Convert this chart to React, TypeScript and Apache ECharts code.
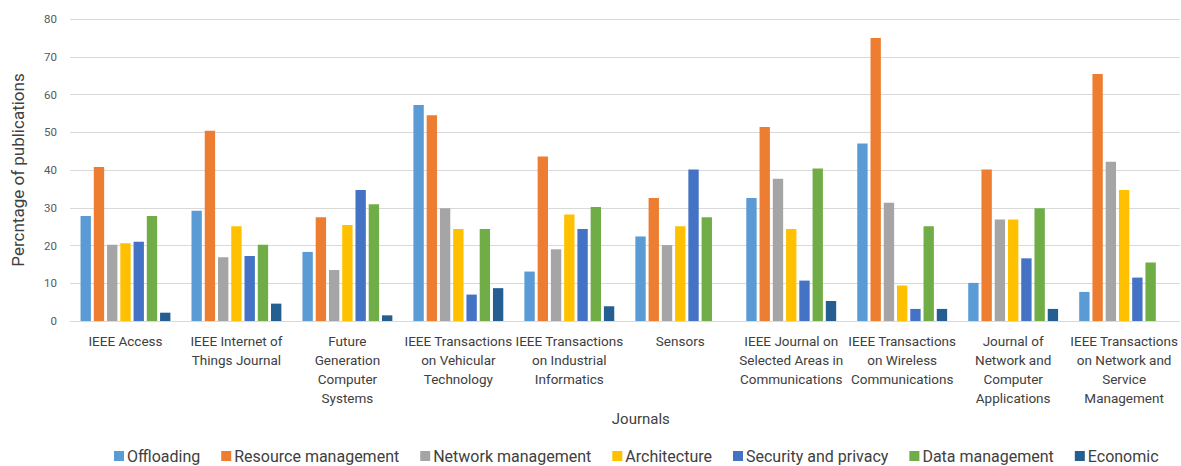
import React, { useEffect, useRef } from "react";
import * as echarts from "echarts";

const categories = [
  "IEEE Access",
  "IEEE Internet of Things Journal",
  "Future Generation Computer Systems",
  "IEEE Transactions on Vehicular Technology",
  "IEEE Transactions on Industrial Informatics",
  "Sensors",
  "IEEE Journal on Selected Areas in Communications",
  "IEEE Transactions on Wireless Communications",
  "Journal of Network and Computer Applications",
  "IEEE Transactions on Network and Service Management",
];

const categoryLabels = [
  "IEEE Access",
  "IEEE Internet of\nThings Journal",
  "Future\nGeneration\nComputer\nSystems",
  "IEEE Transactions\non Vehicular\nTechnology",
  "IEEE Transactions\non Industrial\nInformatics",
  "Sensors",
  "IEEE Journal on\nSelected Areas in\nCommunications",
  "IEEE Transactions\non Wireless\nCommunications",
  "Journal of\nNetwork and\nComputer\nApplications",
  "IEEE Transactions\non Network and\nService\nManagement",
];

const offloading = [27.8, 29.2, 18.3, 57.2, 13.1, 22.4, 32.6, 47.0, 10.1, 7.7];
const resourceManagement = [40.8, 50.4, 27.5, 54.5, 43.6, 32.6, 51.4, 75.0, 40.1, 65.4];
const networkManagement = [20.2, 16.9, 13.5, 29.9, 19.0, 20.1, 37.7, 31.3, 26.9, 42.2];
const architecture = [20.6, 25.1, 25.4, 24.4, 28.2, 25.1, 24.4, 9.4, 26.9, 34.7];
const securityPrivacy = [21.0, 17.2, 34.7, 7.0, 24.4, 40.1, 10.7, 3.2, 16.6, 11.5];
const dataManagement = [27.8, 20.2, 30.9, 24.4, 30.2, 27.5, 40.4, 25.1, 29.9, 15.5];
const economic = [2.2, 4.6, 1.5, 8.7, 3.9, 0, 5.3, 3.2, 3.2, 0];

const yTicks = [0, 10, 20, 30, 40, 50, 60, 70, 80];

const seriesNames = [
  "Offloading",
  "Resource management",
  "Network management",
  "Architecture",
  "Security and privacy",
  "Data management",
  "Economic",
];
const seriesData = [
  offloading,
  resourceManagement,
  networkManagement,
  architecture,
  securityPrivacy,
  dataManagement,
  economic,
];
const colors = ["#5B9BD5", "#ED7D31", "#A5A5A5", "#FFC000", "#4472C4", "#70AD47", "#255E91"];

export default function App() {
  const ref = useRef<HTMLDivElement>(null);
  useEffect(() => {
    if (!ref.current) return;
    const chart = echarts.init(ref.current, null, { renderer: "svg" });
    const font = "Roboto, 'Open Sans', sans-serif";
    chart.setOption({
      animation: false,
      color: colors,
      textStyle: { fontFamily: font },
      grid: { left: 70, right: 0, top: 19, bottom: 145, containLabel: false },
      legend: {
        left: 114,
        top: 448,
        padding: 0,
        itemWidth: 10,
        itemHeight: 10,
        itemGap: 21,
        icon: "rect",
        textStyle: { fontSize: 16, color: "#404040", fontFamily: font, padding: [0, 0, 0, -2] },
        data: seriesNames,
      },
      xAxis: {
        type: "category",
        data: categories,
        name: "Journals",
        nameLocation: "middle",
        nameGap: 87,
        nameTextStyle: { fontSize: 15, color: "#404040", fontFamily: font, padding: [0, 0, 0, 32] },
        axisLine: { lineStyle: { color: "#D9D9D9", width: 1 } },
        axisTick: { show: false },
        axisLabel: {
          interval: 0,
          margin: 10,
          fontSize: 13.5,
          lineHeight: 19,
          color: "#404040",
          formatter: (_v: string, i: number) => categoryLabels[i],
        },
      },
      yAxis: {
        type: "value",
        min: yTicks[0],
        max: yTicks[yTicks.length - 1],
        interval: 10,
        name: "Percntage of publications",
        nameLocation: "middle",
        nameGap: 44,
        nameTextStyle: { fontSize: 17, color: "#404040", fontFamily: font },
        axisLine: { show: false },
        axisTick: { show: false },
        axisLabel: { fontSize: 11.5, color: "#595959", margin: 13 },
        splitLine: { lineStyle: { color: "#D9D9D9", width: 1 } },
      },
      series: seriesNames.map((name, i) => ({
        name,
        type: "bar",
        data: seriesData[i],
        barGap: "28%",
        barCategoryGap: "19%",
        itemStyle: { color: colors[i] },
      })),
    });
    return () => chart.dispose();
  }, []);
  return (
    <div
      ref={ref}
      style={{ position: "fixed", left: 0, top: 0, width: 1181, height: 466, background: "#fff" }}
    />
  );
}
